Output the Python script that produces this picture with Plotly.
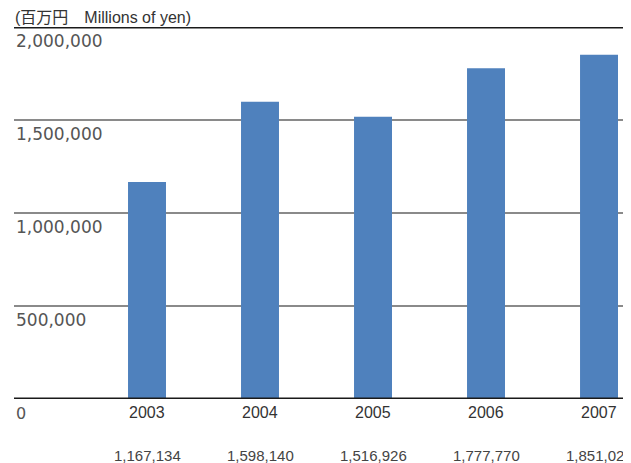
import plotly.graph_objects as go

years = ["2003", "2004", "2005", "2006", "2007"]
values = [1167134, 1598140, 1516926, 1777770, 1851022]
value_labels = ["1,167,134", "1,598,140", "1,516,926", "1,777,770", "1,851,022"]
y_ticks = [0, 500000, 1000000, 1500000, 2000000]
y_tick_labels = ["0", "500,000", "1,000,000", "1,500,000", "2,000,000"]
unit_title = "(百万円\u3000Millions of yen)"

BAR = "#4f81bd"
TXT = "#333333"

fig = go.Figure()
fig.add_trace(go.Bar(x=list(range(len(years))), y=values, marker_color=BAR,
                     marker_line_width=0, width=0.336, hoverinfo="skip"))

annotations = []
for v, lab in zip(y_ticks, y_tick_labels):
    if v == 0:
        continue
    annotations.append(dict(x=0, xref="paper", y=v, yref="y", text=lab,
                            showarrow=False, xanchor="left", yanchor="top", yshift=-2,
                            font=dict(family="DejaVu Sans", size=17, color="#555555")))
annotations.append(dict(x=0, xref="paper", y=0, yref="y", text=y_tick_labels[0],
                        showarrow=False, xanchor="left", yanchor="top", yshift=-3,
                        font=dict(family="DejaVu Sans", size=16, color="#555555")))
for i, (yr, vl) in enumerate(zip(years, value_labels)):
    annotations.append(dict(x=i, xref="x", y=0, yref="y", text=yr, showarrow=False,
                            xanchor="center", yanchor="top", yshift=-3,
                            font=dict(family="Liberation Sans", size=16, color=TXT)))
    annotations.append(dict(x=i, xref="x", y=0, yref="y", text=vl, showarrow=False,
                            xanchor="center", yanchor="top", yshift=-46,
                            font=dict(family="Liberation Sans", size=15, color="#444444")))
annotations.append(dict(x=0, xref="paper", y=1, yref="paper", text=unit_title,
                        showarrow=False, xanchor="left", yanchor="middle", yshift=10,
                        borderpad=0,
                        font=dict(family="Liberation Sans, Noto Sans CJK JP", size=16, color=TXT)))

shapes = []
for v in y_ticks:
    heavy = v in (0, 2000000)
    shapes.append(dict(type="line", xref="paper", x0=0, x1=1, yref="y", y0=v, y1=v,
                       line=dict(color="#1a1a1a" if heavy else "#8a8a8a",
                                 width=3 if heavy else 2),
                       layer="above" if heavy else "below"))

# page body has an 8px default margin; compensate so the chart lands where the reference has it
fig.update_layout(
    width=623, height=455,
    margin=dict(l=6, r=0, t=19, b=64),
    paper_bgcolor="white", plot_bgcolor="white",
    showlegend=False,
    xaxis=dict(range=[-1.177, 4.283], showgrid=False, zeroline=False,
               showticklabels=False, showline=False, fixedrange=True),
    yaxis=dict(range=[0, 2000000], showgrid=False, zeroline=False,
               showticklabels=False, showline=False, fixedrange=True),
    annotations=annotations,
    shapes=shapes,
)

fig.write_html("out.html")
